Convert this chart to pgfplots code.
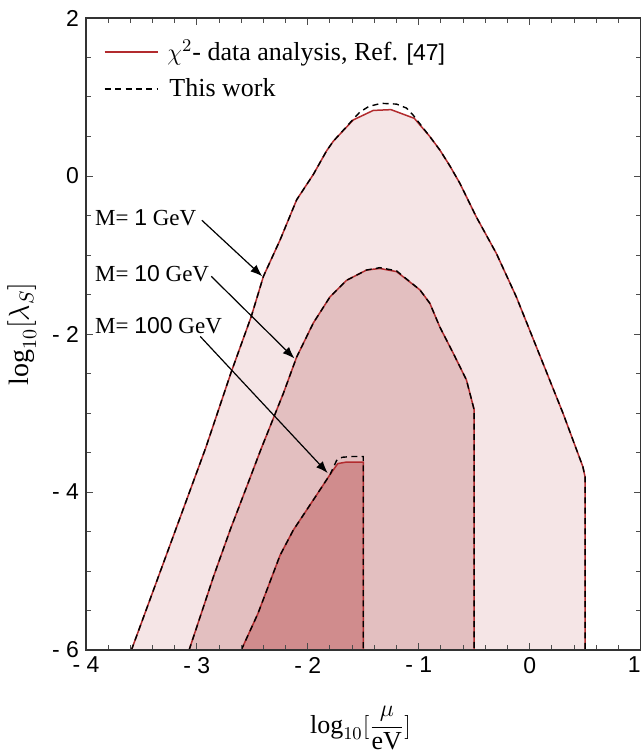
\documentclass[border=0pt]{standalone}
\usepackage{fontspec}
\setmainfont{Liberation Serif}
\setsansfont{Liberation Sans}
\usepackage{pgfplots}
\pgfplotsset{compat=1.18}
\usetikzlibrary{arrows.meta}
\definecolor{cA}{HTML}{F5E5E6}
\definecolor{cB}{HTML}{E3BFC0}
\definecolor{cC}{HTML}{D08C8D}
\definecolor{cR}{HTML}{B22B2E}
\begin{document}
\begin{tikzpicture}
\begin{axis}[
  width=277.5pt, height=316.25pt, scale only axis,
  xmin=-4, xmax=1, ymin=-6, ymax=2,
  xtick={-4,-3,-2,-1,0,1}, xticklabels={- 4,- 3,- 2,- 1,0,\makebox[0pt][r]{1}},
  ytick={-6,-4,-2,0,2}, yticklabels={- 6,- 4,- 2,0,2},
  minor x tick num=4, minor y tick num=3,
  tick align=inside, major tick length=3.5pt, minor tick length=2.5pt,
  tick style={black!70, line width=0.5pt},
  axis line style={black!80, line width=0.6pt},
  ticklabel style={font=\sffamily\fontsize{11.5}{12}\selectfont},
  axis on top,
  legend style={at={(rel axis cs:0.021,0.978)}, anchor=north west, draw=none, fill=none,
     font=\fontsize{13}{15}\selectfont, row sep=3.5pt, column sep=3.5pt},
  legend cell align=left,
  legend image code/.code={\draw[#1] (0pt,0pt) -- (26.5pt,0pt);},
]
% fills
\addplot[fill=cA, draw=none, forget plot] coordinates {
(-3.59,-6) (-2.92,-3.44) (-2.69,-2.48) (-2.51,-1.78) (-2.40,-1.27) (-2.25,-0.81) (-2.10,-0.30) (-1.95,0.02) (-1.83,0.32) (-1.77,0.44) (-1.59,0.71) (-1.41,0.83) (-1.25,0.84) (-1.04,0.73) (-0.90,0.50) (-0.81,0.33) (-0.72,0.13) (-0.63,-0.09) (-0.48,-0.52) (-0.30,-0.98) (-0.12,-1.53) (0.12,-2.37) (0.30,-3.0) (0.48,-3.68) (0.50,-3.81) (0.50,-6)} -- cycle;
\addplot[fill=cB, draw=none, forget plot] coordinates {
(-3.07,-6) (-2.85,-5.07) (-2.70,-4.48) (-2.55,-3.93) (-2.42,-3.45) (-2.34,-3.17) (-2.22,-2.75) (-2.10,-2.29) (-1.95,-1.86) (-1.80,-1.53) (-1.65,-1.32) (-1.47,-1.19) (-1.35,-1.17) (-1.20,-1.21) (-0.99,-1.44) (-0.90,-1.61) (-0.81,-1.91) (-0.69,-2.24) (-0.57,-2.58) (-0.50,-2.96) (-0.50,-6)} -- cycle;
\addplot[fill=cC, draw=none, forget plot] coordinates {
(-2.60,-6) (-2.45,-5.54) (-2.25,-4.80) (-2.13,-4.48) (-1.95,-4.10) (-1.80,-3.78) (-1.73,-3.64) (-1.65,-3.62) (-1.50,-3.62) (-1.50,-6)} -- cycle;
% red lines
\addplot[cR, line width=0.75pt] coordinates {
(-3.59,-6) (-2.92,-3.44) (-2.69,-2.48) (-2.51,-1.78) (-2.40,-1.27) (-2.25,-0.81) (-2.10,-0.30) (-1.95,0.02) (-1.83,0.32) (-1.77,0.44) (-1.59,0.71) (-1.41,0.83) (-1.25,0.84) (-1.04,0.73) (-0.90,0.50) (-0.81,0.33) (-0.72,0.13) (-0.63,-0.09) (-0.48,-0.52) (-0.30,-0.98) (-0.12,-1.53) (0.12,-2.37) (0.30,-3.0) (0.48,-3.68) (0.50,-3.81) (0.50,-6)};
\addlegendentry{\hspace{-1pt}$\chi^{2}$- data analysis, Ref. {\sffamily\fontsize{11.5}{12}\selectfont [47]}}
\addplot[cR, line width=0.75pt, forget plot] coordinates {
(-3.07,-6) (-2.85,-5.07) (-2.70,-4.48) (-2.55,-3.93) (-2.42,-3.45) (-2.34,-3.17) (-2.22,-2.75) (-2.10,-2.29) (-1.95,-1.86) (-1.80,-1.53) (-1.65,-1.32) (-1.47,-1.19) (-1.35,-1.17) (-1.20,-1.21) (-0.99,-1.44) (-0.90,-1.61) (-0.81,-1.91) (-0.69,-2.24) (-0.57,-2.58) (-0.50,-2.96) (-0.50,-6)};
\addplot[cR, line width=0.75pt, forget plot] coordinates {
(-2.60,-6) (-2.45,-5.54) (-2.25,-4.80) (-2.13,-4.48) (-1.95,-4.10) (-1.80,-3.78) (-1.73,-3.64) (-1.65,-3.62) (-1.50,-3.62) (-1.50,-6)};
% dashed lines
\addplot[black, line width=0.7pt, dash pattern=on 3pt off 2.2pt] coordinates {
(-3.59,-6) (-2.92,-3.44) (-2.69,-2.48) (-2.51,-1.78) (-2.40,-1.27) (-2.25,-0.81) (-2.10,-0.30) (-1.95,0.02) (-1.83,0.32) (-1.77,0.44) (-1.59,0.72) (-1.53,0.81) (-1.45,0.88) (-1.34,0.92) (-1.20,0.91) (-1.11,0.86) (-1.05,0.77) (-0.90,0.50) (-0.81,0.33) (-0.72,0.13) (-0.63,-0.09) (-0.48,-0.52) (-0.30,-0.98) (-0.12,-1.53) (0.12,-2.37) (0.30,-3.0) (0.48,-3.68) (0.50,-3.81) (0.50,-6)};
\addlegendentry{This work}
\addplot[black, line width=0.7pt, dash pattern=on 3pt off 2.2pt, forget plot] coordinates {
(-3.07,-6) (-2.85,-5.07) (-2.70,-4.48) (-2.55,-3.93) (-2.42,-3.45) (-2.34,-3.17) (-2.22,-2.75) (-2.10,-2.29) (-1.95,-1.86) (-1.80,-1.53) (-1.65,-1.32) (-1.47,-1.19) (-1.35,-1.16) (-1.20,-1.20) (-0.99,-1.44) (-0.90,-1.61) (-0.81,-1.91) (-0.69,-2.24) (-0.57,-2.58) (-0.50,-2.96) (-0.50,-6)};
\addplot[black, line width=0.7pt, dash pattern=on 3pt off 2.2pt, forget plot] coordinates {
(-2.60,-6) (-2.45,-5.54) (-2.25,-4.80) (-2.13,-4.48) (-1.95,-4.10) (-1.80,-3.78) (-1.74,-3.60) (-1.69,-3.56) (-1.60,-3.55) (-1.50,-3.55) (-1.50,-6)};
% annotations
\node[anchor=west, inner sep=0pt, font=\fontsize{11.5}{13}\selectfont] at (axis cs:-3.92,-0.53) {M= {\sffamily 1} GeV};
\node[anchor=west, inner sep=0pt, font=\fontsize{11.5}{13}\selectfont] at (axis cs:-3.92,-1.23) {M= {\sffamily 10} GeV};
\node[anchor=west, inner sep=0pt, font=\fontsize{11.5}{13}\selectfont] at (axis cs:-3.92,-1.89) {M= {\sffamily 100} GeV};
\draw[-{Latex[length=6pt,width=4.5pt]}, line width=0.6pt] (axis cs:-2.955,-0.56) -- (axis cs:-2.41,-1.27);
\draw[-{Latex[length=6pt,width=4.5pt]}, line width=0.6pt] (axis cs:-2.87,-1.27) -- (axis cs:-2.12,-2.31);
\draw[-{Latex[length=6pt,width=4.5pt]}, line width=0.6pt] (axis cs:-2.97,-2.03) -- (axis cs:-1.82,-3.76);
\coordinate (sw) at (rel axis cs:0,0);
\coordinate (ne) at (rel axis cs:1,1);
\coordinate (xl) at (rel axis cs:0.495,0);
\coordinate (yl) at (rel axis cs:0,0.5);
\end{axis}
\node[anchor=base, font=\fontsize{13}{15}\selectfont, yshift=-41.5pt] at (xl) {$\log_{10}[\displaystyle\frac{\mu}{\mathrm{eV}}]$};
\node[anchor=base, rotate=90, font=\fontsize{14}{16}\selectfont] at ([xshift=-28.5pt]yl) {$\log_{10}[\lambda_S]$};
\pgfresetboundingbox
\path[use as bounding box] ([shift={(-43pt,-52.5pt)}]sw) rectangle ([shift={(1pt,9pt)}]ne);
\end{tikzpicture}
\end{document}
